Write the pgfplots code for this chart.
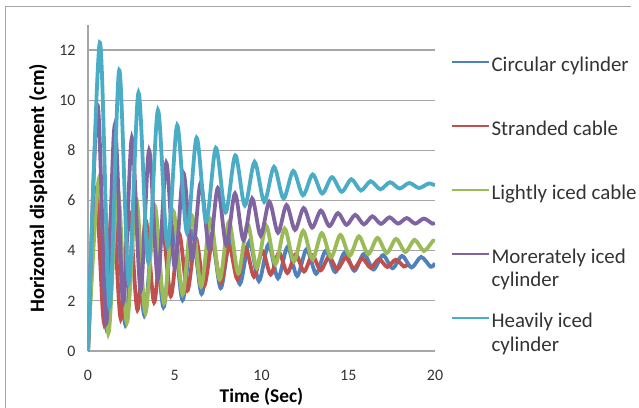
\documentclass[border=0pt]{standalone}
\usepackage{fontspec}
\setmainfont{Carlito}
\usepackage{pgfplots}
\pgfplotsset{compat=1.18}

\definecolor{sBlue}{HTML}{4F81BD}
\definecolor{sRed}{HTML}{C0504D}
\definecolor{sGreen}{HTML}{9BBB59}
\definecolor{sPurple}{HTML}{8064A2}
\definecolor{sCyan}{HTML}{4BACC6}
\definecolor{gridgray}{HTML}{A6A6A6}

\newcommand{\legtext}[1]{\parbox[t][40bp][t]{150bp}{\raggedright #1}}

\begin{document}
\begin{tikzpicture}
\useasboundingbox (-88bp,-57bp) rectangle (551bp,351bp);
\begin{axis}[
  at={(0,0)}, anchor=south west,
  scale only axis, width=347bp, height=326bp,
  xmin=0, xmax=20, ymin=0, ymax=13,
  xtick={0,5,10,15,20}, ytick={0,2,...,12},
  axis lines*=left,
  axis line style={draw=gridgray, line width=1.2bp},
  major tick length=0pt,
  ymajorgrids,
  grid style={draw=gridgray, line width=1.2bp},
  /pgf/number format/assume math mode=true,
  ticklabel style={font=\fontsize{16}{18}\selectfont, text=black!80},
  yticklabel style={xshift=-9bp},
  xticklabel style={yshift=-16bp},
  every axis x label/.style={at={(axis description cs:0.5,-0.14)}, anchor=center},
  every axis y label/.style={at={(axis description cs:-0.144,0.5)}, rotate=90, anchor=center},
  xlabel={\fontsize{19.5}{22}\selectfont\bfseries Time (Sec)},
  ylabel={\fontsize{20.5}{23}\selectfont\bfseries Horizontal displacement (cm)},
  legend cell align=left,
  legend image code/.code={\draw[#1, line width=2.4bp] (0bp,0.5ex) -- (37bp,0.5ex);},
  legend style={draw=none, fill=none, inner sep=0pt,
    at={(axis description cs:1.046,0.904)}, anchor=north west,
    font=\fontsize{21}{24}\selectfont, row sep=48bp,
    nodes={inner xsep=1bp, inner ysep=0pt, text=black!80}},
  every axis plot/.append style={line width=3.8bp, smooth},
]
% Circular cylinder
\addplot[sBlue] coordinates {
(0,0) (0.5,6.15) (1.05,0.9) (1.6,5.74) (2.15,1.06) (2.7,5.42) (3.25,1.42)
(3.8,5.16) (4.35,1.75) (4.9,4.95) (5.45,2.03) (6.0,4.78) (6.55,2.28)
(7.1,4.63) (7.65,2.51) (8.2,4.51) (8.75,2.67) (9.3,4.37) (9.85,2.79)
(10.4,4.25) (10.95,2.90) (11.5,4.15) (12.05,2.99) (12.6,4.06) (13.15,3.08)
(13.7,3.99) (14.25,3.15) (14.8,3.93) (15.35,3.20) (15.9,3.87) (16.45,3.25)
(17.0,3.82) (17.55,3.30) (18.1,3.79) (18.65,3.33) (19.2,3.75) (19.75,3.36)
(20,3.5)};
\addlegendentry{\legtext{Circular cylinder}}
% Stranded cable
\addplot[sRed] coordinates {
(0,0) (0.45,6.40) (0.93,1.1) (1.41,5.93) (1.89,1.28) (2.37,5.53) (2.85,1.64)
(3.33,5.20) (3.81,1.94) (4.29,4.92) (4.77,2.19) (5.25,4.69) (5.73,2.41)
(6.21,4.50) (6.69,2.59) (7.17,4.34) (7.65,2.73) (8.13,4.20) (8.61,2.86)
(9.09,4.09) (9.57,2.96) (10.05,3.99) (10.53,3.05) (11.01,3.92) (11.49,3.11)
(11.97,3.86) (12.45,3.17) (12.93,3.81) (13.41,3.22) (13.89,3.76) (14.37,3.26)
(14.85,3.72) (15.33,3.29) (15.81,3.69) (16.29,3.32) (16.77,3.66) (17.25,3.35)
(17.73,3.64) (18.21,3.37) (18.4,3.45)};
\addlegendentry{\legtext{Stranded cable}}
% Lightly iced cable
\addplot[sGreen] coordinates {
(0,0) (0.64,6.9) (1.17,0.70) (1.705,6.48) (2.24,1.13) (2.775,6.07) (3.31,1.52)
(3.845,5.79) (4.38,1.92) (4.915,5.58) (5.45,2.26) (5.985,5.40) (6.52,2.57)
(7.055,5.26) (7.59,2.85) (8.125,5.16) (8.66,3.09) (9.195,5.07) (9.73,3.32)
(10.265,5.00) (10.8,3.46) (11.335,4.88) (11.87,3.57) (12.405,4.79) (12.94,3.66)
(13.475,4.70) (14.01,3.74) (14.545,4.63) (15.08,3.80) (15.615,4.57) (16.15,3.86)
(16.685,4.51) (17.22,3.91) (17.755,4.47) (18.29,3.95) (18.825,4.43) (19.36,3.99)
(19.895,4.40) (20,4.36)};
\addlegendentry{\legtext{Lightly iced cable}}
% Moderately iced cylinder
\addplot[sPurple] coordinates {
(0,0) (0.55,9.8) (1.05,1.1) (1.54,9.0) (2.04,1.97) (2.53,8.5) (3.03,2.42)
(3.52,8.0) (4.02,2.87) (4.51,7.5) (5.0,3.32) (5.5,7.1) (6.0,3.68)
(6.49,6.7) (7.0,4.04) (7.48,6.5) (7.97,4.22) (8.47,6.28) (8.96,4.42)
(9.46,6.08) (9.95,4.60) (10.45,5.95) (10.95,4.72) (11.44,5.82) (11.93,4.83)
(12.43,5.70) (12.92,4.92) (13.42,5.60) (13.91,4.98) (14.41,5.50) (14.9,5.03)
(15.4,5.43) (15.9,5.05) (16.39,5.37) (16.88,5.07) (17.38,5.33) (17.87,5.08)
(18.37,5.30) (18.86,5.08) (19.36,5.28) (19.85,5.08) (20,5.12)};
\addlegendentry{\legtext{Morerately iced\\cylinder}}
% Heavily iced cylinder
\addplot[sCyan] coordinates {
(0,0) (0.68,12.3) (1.24,1.75) (1.80,11.2) (2.35,2.75) (2.91,10.3) (3.47,3.55)
(4.03,9.6) (4.58,4.18) (5.14,9.0) (5.70,4.72) (6.26,8.5) (6.81,5.17)
(7.37,8.1) (7.93,5.53) (8.49,7.8) (9.04,5.8) (9.60,7.54) (10.16,5.95)
(10.72,7.34) (11.27,6.08) (11.83,7.18) (12.39,6.21) (12.95,7.04) (13.50,6.28)
(14.06,6.93) (14.62,6.35) (15.18,6.85) (15.73,6.40) (16.29,6.77) (16.85,6.45)
(17.41,6.73) (17.96,6.48) (18.52,6.70) (19.08,6.50) (19.64,6.68) (20,6.6)};
\addlegendentry{\legtext{Heavily iced\\cylinder}}
\end{axis}
% chart frame (its lower edge falls below the visible area)
\draw[gridgray, line width=1bp] (-82bp,-62bp) -- (-82bp,344bp) -- (543bp,344bp);
\end{tikzpicture}
\end{document}
